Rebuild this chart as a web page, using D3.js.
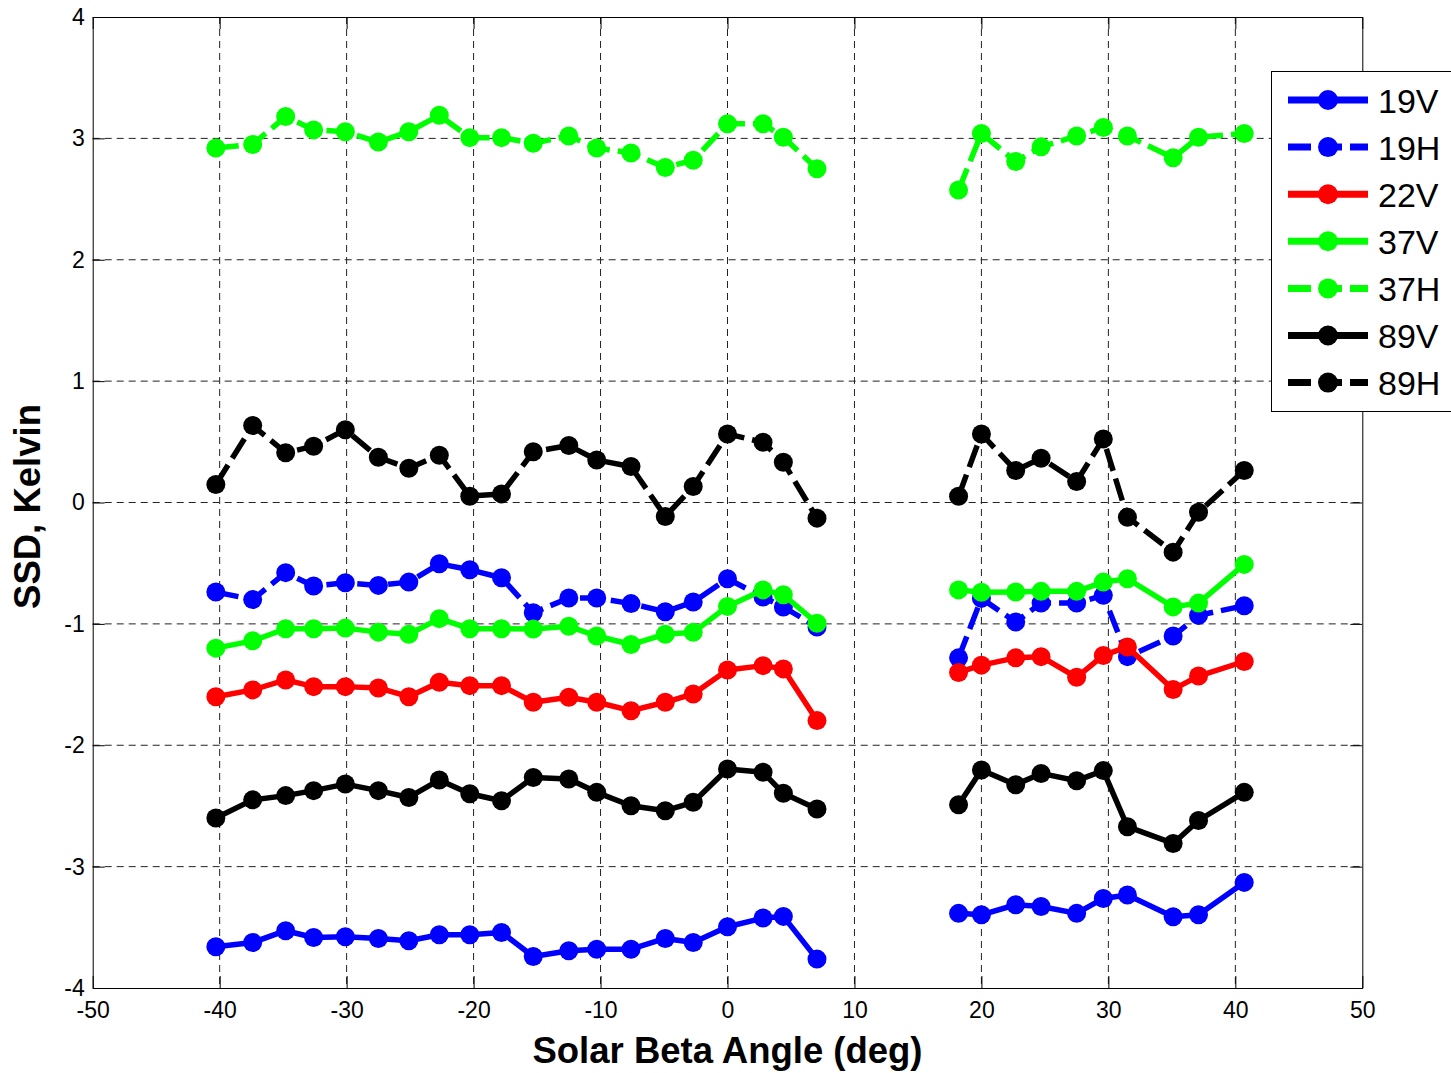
<!DOCTYPE html>
<html>
<head>
<meta charset="utf-8">
<script src="https://cdn.jsdelivr.net/npm/d3@7"></script>
<style>
  html, body { margin: 0; padding: 0; background: #fff; }
  svg { display: block; font-family: "Liberation Sans", Arial, sans-serif; }
</style>
</head>
<body>
<svg id="chart" width="1451" height="1073"></svg>
<script>
// ---- data ----
const angles = [-40.3, -37.4, -34.8, -32.6, -30.1, -27.5, -25.1, -22.7, -20.3, -17.8,
                -15.3, -12.5, -10.3, -7.6, -4.9, -2.7, 0.0, 2.8, 4.4, 7.05,
                18.2, 20.0, 22.7, 24.7, 27.5, 29.6, 31.5, 35.1, 37.1, 40.7];

const ssd19V = [-3.66, -3.625, -3.528, -3.584, -3.578, -3.592, -3.611, -3.561, -3.561, -3.542,
                -3.74, -3.693, -3.68, -3.68, -3.592, -3.625, -3.495, -3.424, -3.41, -3.762,
                -3.385, -3.397, -3.314, -3.328, -3.385, -3.262, -3.234, -3.413, -3.397, -3.13];
const ssd19H = [-0.738, -0.80, -0.578, -0.688, -0.661, -0.683, -0.656, -0.505, -0.554, -0.62,
                -0.908, -0.787, -0.787, -0.833, -0.90, -0.82, -0.628, -0.779, -0.861, -1.025,
                -1.28, -0.79, -0.985, -0.829, -0.829, -0.765, -1.27, -1.10, -0.93, -0.85];
const ssd22V = [-1.60, -1.544, -1.462, -1.517, -1.517, -1.528, -1.60, -1.481, -1.509, -1.509,
                -1.646, -1.605, -1.646, -1.715, -1.646, -1.577, -1.38, -1.344, -1.371, -1.797,
                -1.40, -1.34, -1.28, -1.27, -1.44, -1.26, -1.19, -1.54, -1.43, -1.31];
const ssd37V = [-1.20, -1.14, -1.04, -1.04, -1.035, -1.068, -1.086, -0.957, -1.04, -1.04,
                -1.043, -1.02, -1.10, -1.17, -1.085, -1.07, -0.856, -0.72, -0.76, -0.995,
                -0.72, -0.74, -0.738, -0.732, -0.732, -0.656, -0.628, -0.86, -0.829, -0.51];
const ssd37H = [2.92, 2.95, 3.18, 3.07, 3.055, 2.97, 3.055, 3.19, 3.006, 3.006,
                2.96, 3.02, 2.92, 2.88, 2.76, 2.82, 3.12, 3.12, 3.01, 2.75,
                2.575, 3.04, 2.81, 2.93, 3.02, 3.09, 3.02, 2.84, 3.01, 3.04];
const ssd89V = [-2.60, -2.45, -2.415, -2.374, -2.32, -2.374, -2.43, -2.286, -2.40, -2.457,
                -2.265, -2.278, -2.388, -2.498, -2.539, -2.47, -2.195, -2.223, -2.396, -2.525,
                -2.49, -2.204, -2.325, -2.232, -2.292, -2.209, -2.671, -2.809, -2.62, -2.388];
const ssd89H = [0.148, 0.634, 0.41, 0.464, 0.60, 0.373, 0.282, 0.39, 0.052, 0.071,
                0.418, 0.47, 0.35, 0.296, -0.115, 0.132, 0.565, 0.496, 0.332, -0.129,
                0.052, 0.565, 0.263, 0.365, 0.173, 0.524, -0.121, -0.409, -0.080, 0.263];

const seriesNames = ["19V", "19H", "22V", "37V", "37H", "89V", "89H"];
const seriesValues = [ssd19V, ssd19H, ssd22V, ssd37V, ssd37H, ssd89V, ssd89H];
const seriesColors = ["#0000ff", "#0000ff", "#ff0000", "#00ff00", "#00ff00", "#000000", "#000000"];
const seriesDashed = [false, true, false, false, true, false, true];

const xTicks = [-50, -40, -30, -20, -10, 0, 10, 20, 30, 40, 50];
const yTicks = [-4, -3, -2, -1, 0, 1, 2, 3, 4];
const xLabel = "Solar Beta Angle (deg)";
const yLabel = "SSD, Kelvin";

// ---- layout ----
const svg = d3.select("#chart");
const L = 92.7, R = 1362.3, T = 17, B = 988;
const x = d3.scaleLinear().domain([-50, 50]).range([L, R]);
const y = d3.scaleLinear().domain([-4, 4]).range([B, T]);
const fmt = d => String(d);

// grid
const grid = svg.append("g");
grid.selectAll("line.gx").data(xTicks.slice(1, -1)).join("line")
  .attr("x1", d => x(d)).attr("x2", d => x(d)).attr("y1", T).attr("y2", B)
  .attr("stroke", "#222").attr("stroke-width", 1).attr("stroke-dasharray", "7,5");
grid.selectAll("line.gy").data(yTicks.slice(1, -1)).join("line")
  .attr("y1", d => y(d)).attr("y2", d => y(d)).attr("x1", L).attr("x2", R)
  .attr("stroke", "#222").attr("stroke-width", 1).attr("stroke-dasharray", "7,5");

// axes (MATLAB box with inward ticks)
const tickLen = 12;
const axB = svg.append("g").attr("transform", `translate(0,${B})`)
  .call(d3.axisBottom(x).tickValues(xTicks).tickFormat(fmt).tickSizeInner(-tickLen).tickSizeOuter(0).tickPadding(14));
const axT = svg.append("g").attr("transform", `translate(0,${T})`)
  .call(d3.axisTop(x).tickValues(xTicks).tickSizeInner(-tickLen).tickSizeOuter(0).tickFormat(""));
const axL = svg.append("g").attr("transform", `translate(${L},0)`)
  .call(d3.axisLeft(y).tickValues(yTicks).tickFormat(fmt).tickSizeInner(-tickLen).tickSizeOuter(0).tickPadding(8));
const axR = svg.append("g").attr("transform", `translate(${R},0)`)
  .call(d3.axisRight(y).tickValues(yTicks).tickSizeInner(-tickLen).tickSizeOuter(0).tickFormat(""));
[axB, axT, axL, axR].forEach(a => {
  a.select(".domain").attr("stroke", "#000").attr("stroke-width", 1);
  a.selectAll(".tick line").attr("stroke", "#000").attr("stroke-width", 1);
  a.selectAll(".tick text").attr("fill", "#000")
    .style("font-family", '"Liberation Sans", Arial, sans-serif').style("font-size", "23px");
});
axB.selectAll(".tick text").attr("dy", "0.71em");

// series
const idx = d3.range(angles.length);
const segments = [];
let cur = [];
idx.forEach((i, k) => {
  if (k > 0 && angles[i] - angles[i - 1] > 8) { segments.push(cur); cur = []; }
  cur.push(i);
});
segments.push(cur);

const plot = svg.append("g");
seriesValues.forEach((vals, s) => {
  const line = d3.line().x(i => x(angles[i])).y(i => y(vals[i]));
  const g = plot.append("g");
  segments.forEach(seg => {
    g.append("path").attr("d", line(seg)).attr("fill", "none")
      .attr("stroke", seriesColors[s]).attr("stroke-width", 5.5)
      .attr("stroke-linejoin", "round")
      .attr("stroke-dasharray", seriesDashed[s] ? "23,8" : null);
  });
  g.selectAll("circle").data(idx).join("circle")
    .attr("cx", i => x(angles[i])).attr("cy", i => y(vals[i])).attr("r", 9.5)
    .attr("fill", seriesColors[s]);
});

// labels
svg.append("text").attr("x", x(0)).attr("y", 1063).attr("text-anchor", "middle")
  .style("font-size", "36.5px").style("font-weight", "bold").text(xLabel);
svg.append("text").attr("transform", `translate(40,${y(0) + 4}) rotate(-90)`)
  .attr("text-anchor", "middle")
  .style("font-size", "36.5px").style("font-weight", "bold").text(yLabel);

// legend
const lg = svg.append("g");
lg.append("rect").attr("x", 1271.5).attr("y", 71.5).attr("width", 200).attr("height", 340)
  .attr("fill", "#fff").attr("stroke", "#000").attr("stroke-width", 1);
seriesNames.forEach((name, s) => {
  const ry = 100 + s * 47.1;
  lg.append("line").attr("x1", 1288).attr("x2", 1368).attr("y1", ry).attr("y2", ry)
    .attr("stroke", seriesColors[s]).attr("stroke-width", 7)
    .attr("stroke-dasharray", seriesDashed[s] ? "23,8" : null);
  lg.append("circle").attr("cx", 1328).attr("cy", ry).attr("r", 10).attr("fill", seriesColors[s]);
  lg.append("text").attr("x", 1378).attr("y", ry + 12.5)
    .style("font-size", "34px").attr("fill", "#000").text(name);
});
</script>
</body>
</html>
